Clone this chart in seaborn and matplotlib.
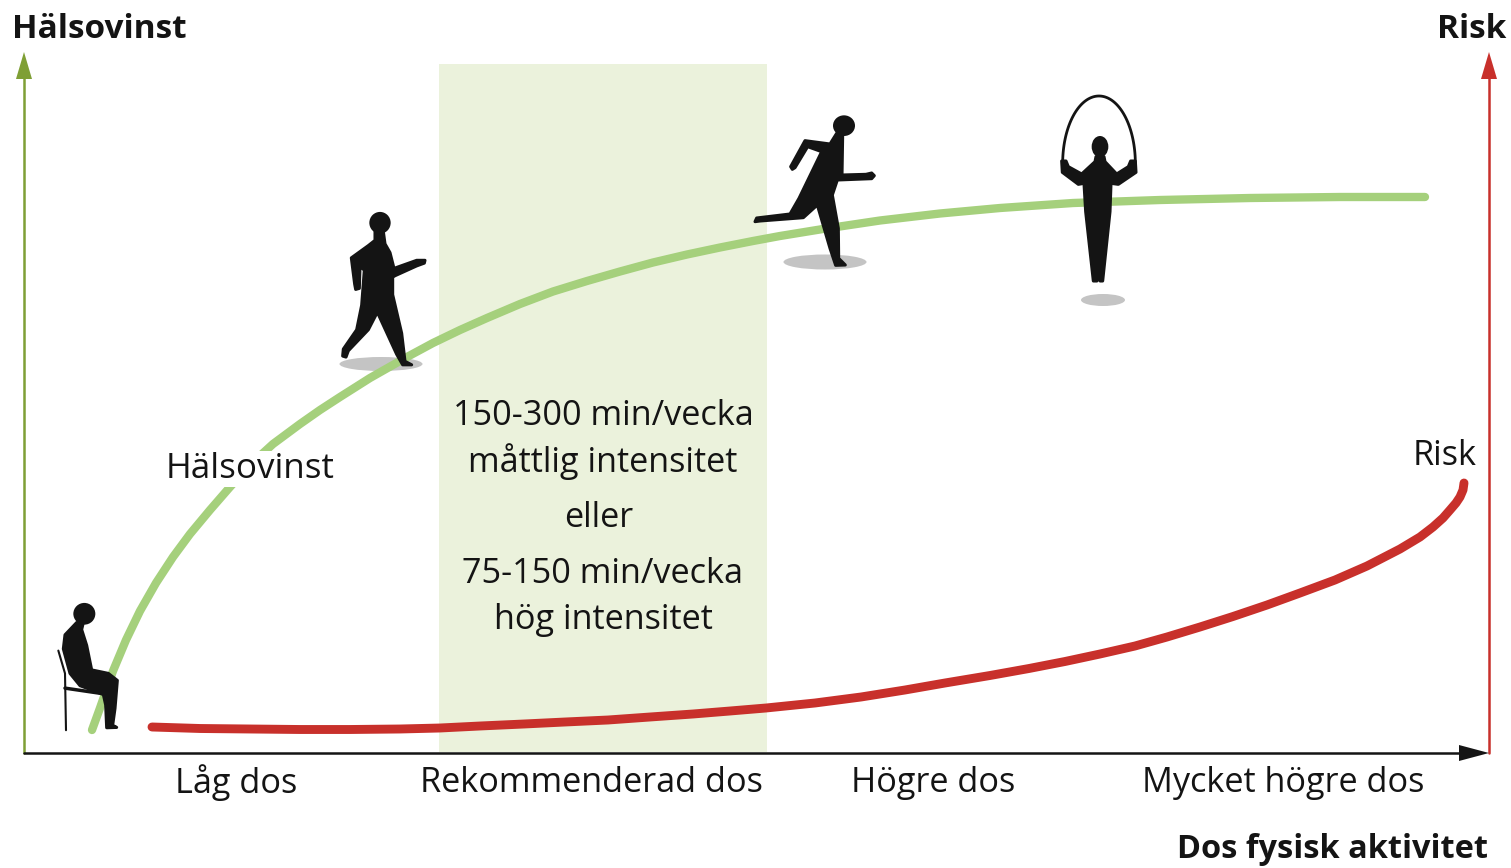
import numpy as np
import pandas as pd
import seaborn as sns
import matplotlib.pyplot as plt
from matplotlib.patches import Ellipse, Polygon, Rectangle

# curves (image pixels)
gain_x = [92, 100, 113, 126, 140, 156, 173, 190, 210, 230, 250, 273, 300, 320, 340, 370, 407, 433, 460, 487, 520, 553,
          587, 620, 653, 687, 720, 753, 780, 823, 880, 940, 1000, 1073, 1160, 1250, 1340, 1425]
gain_y = [730, 708, 671, 640, 611, 583, 557, 534, 510, 487, 465, 444, 424, 410, 397, 378, 357, 343, 330, 318, 304,
          291.5, 281, 271.5, 262.5, 254.5, 247.5, 241, 236, 229, 220.5, 213.5, 208, 203, 200, 198, 197, 197]
risk_x = [152, 200, 250, 300, 350, 400, 440, 480, 524, 565, 608, 650, 693, 730, 766, 815, 861, 905, 945, 990, 1029,
          1065, 1100, 1135, 1167, 1200, 1233, 1267, 1300, 1335, 1367, 1400, 1420, 1433, 1443, 1450, 1456, 1460, 1463,
          1464]
risk_y = [727, 728.5, 729, 729.5, 729.5, 729, 728, 726, 724, 722, 720, 717, 714, 711, 708, 703, 697, 690, 683, 675.5,
          668.5, 661.5, 654, 646, 637, 627, 616.5, 605, 593, 580, 566, 549, 537, 527, 518, 510, 503, 497, 490, 483]

dose_labels = ['Låg dos', 'Rekommenderad dos', 'Högre dos', 'Mycket högre dos']
dose_label_x = [236, 591, 933, 1283]

GREEN = '#a5d07c'
RED = '#c8302b'
INK = '#141414'

sns.set_theme(style='white')
plt.rcParams['font.family'] = ['Open Sans', 'DejaVu Sans']

fig = plt.figure(figsize=(15.11, 8.68), dpi=100)
ax = fig.add_axes([0, 0, 1, 1])

ax.add_patch(Rectangle((439, 64), 328, 688, color='#ebf2dc', lw=0, zorder=1))


def zoomed(pts, ox, oy, sy=1.0):
    # silhouettes were traced on 3x crops
    a = np.array(pts, dtype=float)
    return np.column_stack([ox + a[:, 0] / 3, oy + a[:, 1] * sy / 3])


def person(pts, head, ox, oy, sy=1.0):
    ax.add_patch(Polygon(zoomed(pts, ox, oy, sy), closed=True, fc=INK, ec=INK, lw=2.2, joinstyle='round', zorder=5))
    ax.add_patch(Ellipse((ox + head[0] / 3, oy + head[1] * sy / 3), head[2] / 3, head[3] * sy / 3, fc=INK, ec='none',
                         zorder=5))


def shadow(x, y, w, h):
    ax.add_patch(Ellipse((x, y), w, h, fc='#c4c4c4', ec='none', zorder=2))


shadow(381, 364, 83, 14)
shadow(825, 262, 83, 15)
shadow(1103, 300, 44, 12)

sns.lineplot(data=pd.DataFrame({'x': gain_x, 'y': gain_y}), x='x', y='y', ax=ax, color=GREEN, lw=6,
             estimator=None, sort=False, solid_capstyle='round', solid_joinstyle='round', zorder=3)
sns.lineplot(data=pd.DataFrame({'x': risk_x, 'y': risk_y}), x='x', y='y', ax=ax, color=RED, lw=6.4,
             estimator=None, sort=False, solid_capstyle='round', solid_joinstyle='round', zorder=3)
ax.set_xlim(0, 1511)
ax.set_ylim(868, 0)
ax.axis('off')

# sitting
SY = 1.052
person([(110, 1205), (130, 1205), (125, 1225), (140, 1270), (155, 1340), (205, 1350), (232, 1370), (225, 1450),
        (218, 1498), (230, 1504), (200, 1505), (197, 1440), (190, 1410), (120, 1385), (90, 1350), (70, 1280),
        (75, 1240)], (133, 1180, 66, 62), 40, 200, SY)
chair = zoomed([(55, 1285), (75, 1350), (78, 1512)], 40, 200, SY)
ax.plot(chair[:, 0], chair[:, 1], color=INK, lw=1.5, zorder=5)
seat = zoomed([(75, 1392), (190, 1408)], 40, 200, SY)
ax.plot(seat[:, 0], seat[:, 1], color=INK, lw=2.5, zorder=5)

# walking
person([(1005, 90), (1030, 90), (1035, 125), (1050, 150), (1062, 195), (1130, 172), (1155, 172), (1153, 180),
        (1130, 188), (1065, 216), (1058, 220), (1058, 270), (1085, 380), (1095, 460), (1115, 470), (1088, 470),
        (1070, 440), (1012, 320), (985, 370), (925, 430), (918, 448), (908, 445), (910, 425), (950, 370), (965, 300),
        (973, 200), (960, 190), (958, 252), (947, 255), (944, 240), (934, 165), (985, 130), (1005, 115)],
       (1020, 65, 64, 62), 40, 200, SY)

# running
person([(290, 145), (308, 150), (306, 270), (378, 268), (395, 264), (403, 272), (395, 281), (292, 285), (277, 330),
        (295, 430), (296, 520), (316, 540), (287, 541), (270, 490), (232, 360), (190, 398), (60, 408), (45, 410),
        (50, 399), (150, 387), (177, 340), (245, 200), (203, 185), (165, 248), (157, 253), (152, 245), (195, 167),
        (270, 177)], (312, 122, 66, 62), 740, 85)

# jumping
person([(1068, 215), (1092, 215), (1095, 230), (1130, 267), (1165, 245), (1172, 228), (1186, 228), (1188, 262),
        (1135, 298), (1113, 295), (1110, 380), (1088, 588), (1080, 588), (1076, 390), (1071, 588), (1060, 588),
        (1037, 380), (1032, 295), (1015, 298), (967, 262), (965, 228), (978, 228), (985, 245), (1025, 267),
        (1065, 230)], (1080, 185, 50, 64), 740, 85)
t = np.linspace(np.pi, np.pi * 2, 80)
ax.plot(740 + (1077 + 109 * np.cos(t)) / 3, 85 + (235 + 202 * np.sin(t)) / 3, color=INK, lw=2, zorder=5)

# axes arrows
ax.plot([24, 24], [753, 70], color='#7f9f35', lw=1.8, zorder=4)
ax.add_patch(Polygon([(24, 52), (16, 79), (32, 79)], fc='#7f9f35', ec='none', zorder=4))
ax.plot([1489, 1489], [753, 70], color=RED, lw=1.8, zorder=4)
ax.add_patch(Polygon([(1489, 52), (1481, 79), (1497, 79)], fc=RED, ec='none', zorder=4))
ax.plot([24, 1465], [753, 753], color=INK, lw=1.8, zorder=6)
ax.add_patch(Polygon([(1489, 753), (1459, 745), (1459, 761)], fc=INK, ec='none', zorder=6))

fs = 24.7
ax.text(12, 29, 'Hälsovinst', fontsize=24, fontweight='bold', color=INK, va='center', ha='left')
ax.text(1506, 29, 'Risk', fontsize=24, fontweight='bold', color=INK, va='center', ha='right')
ax.text(1488, 850, 'Dos fysisk aktivitet', fontsize=23.4, fontweight='bold', color=INK, va='center', ha='right')
ax.text(250, 469, 'Hälsovinst', fontsize=25.2, color=INK, va='center', ha='center', zorder=7,
        bbox=dict(fc='white', ec='none', pad=1))
ax.text(1445, 456, 'Risk', fontsize=fs, color=INK, va='center', ha='center')

for lab, x in zip(dose_labels, dose_label_x):
    ax.text(x, 783, lab, fontsize=fs, color=INK, va='center', ha='center')

for lab, x, y in [('150-300 min/vecka', 603, 416), ('måttlig intensitet', 603, 462), ('eller', 599, 518),
                  ('75-150 min/vecka', 603, 574), ('hög intensitet', 603, 620)]:
    ax.text(x, y, lab, fontsize=fs, color=INK, va='center', ha='center', zorder=7)

fig.savefig('out.png', dpi=100)
